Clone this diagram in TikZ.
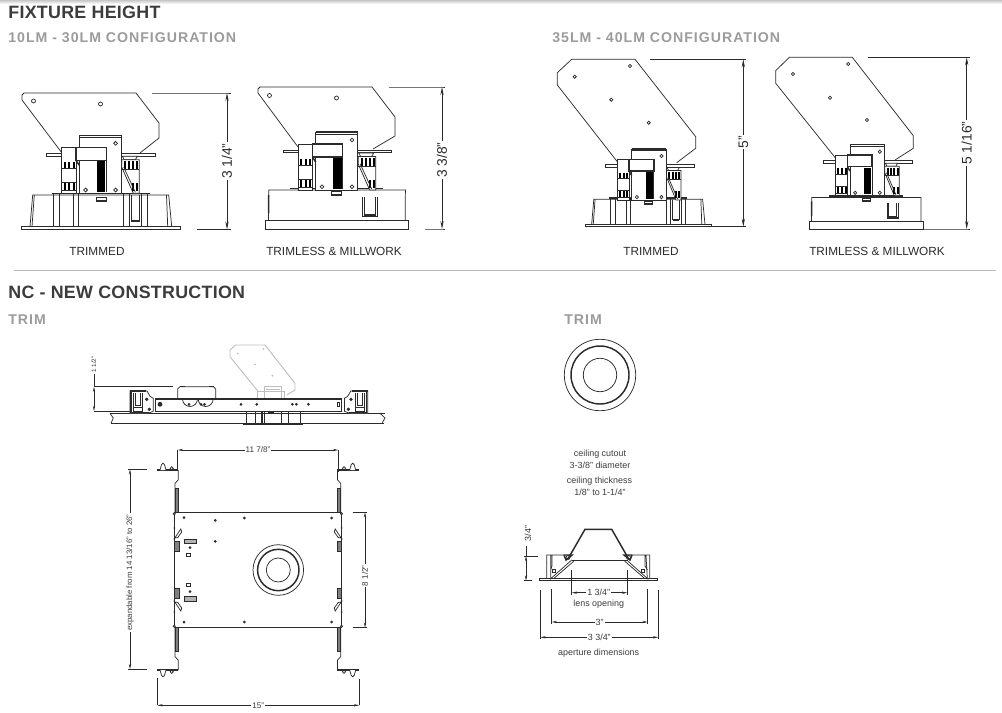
\documentclass[tikz,border=0pt]{standalone}
\usepackage{fontspec}
\setmainfont{Liberation Sans}
\usepackage{xcolor}
\usetikzlibrary{arrows.meta}
\definecolor{inkgray}{HTML}{2B2B2B}
\definecolor{headgray}{HTML}{3C3C3C}
\definecolor{subgray}{HTML}{9B9B9B}
\definecolor{rulegray}{HTML}{B9B9B9}
\definecolor{fadegray}{HTML}{BDBDBD}
\newfontfamily\spacedfont[LetterSpace=7]{Liberation Sans}
\newfontfamily\headfont[LetterSpace=1.5]{Liberation Sans}
\tikzset{
  part/.style={draw=inkgray,line width=0.55pt},
  heavy/.style={draw=inkgray,line width=1.1pt},
  comb/.style={draw=black,line width=1.5pt},
  module/.pic={
    \draw[part,fill=white] (0,0) rectangle (42,-58);
    \draw[heavy] (0,-58) -- (42,-58);
    \draw[part] (0,-56) -- (42,-56);
    \draw[part,fill=white] (-17.7,0) rectangle (-3.3,-46);
    \draw[heavy,fill=white] (-3.3,-46) rectangle (27,-33);
    \draw[part] (27,-33) -- (27,-1);
    \draw[heavy] (-3.3,-33) -- (0,-28);
    \fill[black] (17.5,-32) rectangle (26,-1.5);
    \foreach \cx in {-14.5,-10,-5.5} {
      \draw[comb] (\cx,-31) -- (\cx,-25);
      \draw[comb] (\cx,-10) -- (\cx,-3.5);
    }
    \draw[part] (-17.7,-24.5) -- (-3.3,-24.5) (-17.7,-11) -- (-3.3,-11) (-17.7,-3) -- (-3.3,-3);
    \foreach \hx/\hy in {36.3/-50,6.3/-3.3,36.3/-3.3}
      \draw[part,fill=white] (\hx,\hy) circle (1.9);
    \draw[part,fill=white] (-32.7,-40) rectangle (-17.7,-37.3);
    \draw[part,fill=white] (42,-40) rectangle (76,-37.3);
    \draw[part,fill=white] (43,-37) -- (58,-37) -- (56,-33.5) -- (45,-33.5) -- cycle;
    \draw[part,fill=white] (42.5,-33.5) -- (60,-33.5) -- (60,0) -- (54,0) -- (42.5,-26) -- cycle;
    \foreach \cx in {46,50,54,58} \draw[comb] (\cx,-32) -- (\cx,-24);
    \foreach \cx in {54,58} \draw[comb] (\cx,-10) -- (\cx,-2);
    \draw[part] (42.5,-23.5) -- (60,-23.5);
    \draw[part] (44.5,-26) -- (56,-1);
  },
  trimhousing/.pic={
    \draw[part,fill=white] (0,0) rectangle (158.3,-2.7);
    \draw[part] (8.3,-2.7) -- (11,-34.3) -- (147,-34.3) -- (150,-2.7);
    \draw[part] (10.3,-2.7) -- (12.6,-34.3) (146,-2.7) -- (144.8,-34.3);
    \draw[heavy] (30,-36) -- (128,-36);
    \foreach \wx in {31.7,37.7,51.7,56.7,101.7,107.3,120,126}
      \draw[part] (\wx,-36) -- (\wx,-2.7);
    \draw[part,fill=white] (74.3,-31.7) rectangle (84.3,-27.7);
    \draw[heavy] (74.3,-28.5) -- (84.3,-28.5);
    \draw[part] (109.5,-34) -- (109.5,-9) -- (118,-9) -- (118,-34);
    \draw[heavy] (109.5,-8) -- (118,-8);
  },
  millhousing/.pic={
    \draw[part,fill=white] (0,0) rectangle (142.7,-9);
    \draw[part] (2.7,-9) -- (3,-39) -- (139.7,-39) -- (139.5,-9);
    \draw[heavy] (3,-34) -- (2.9,-16);
    \draw[heavy] (24.3,-40.5) -- (117.7,-40.5);
    \draw[part,fill=white] (66,-37.5) rectangle (76,-34);
    \draw[heavy] (66,-34.5) -- (76,-34.5);
    \draw[part] (97,-32) -- (97,-13) -- (111.3,-13) -- (111.3,-32);
    \draw[part] (99,-32) -- (99,-15) -- (109.3,-15) -- (109.3,-32);
    \draw[heavy] (98,-14) -- (110.3,-14);
  },
  endclip/.pic={
    \draw[part,fill=white] (0,-22.3) -- (17,-22.3) -- (20,-17) -- (23.3,-15) -- (23.3,-2) -- (18,0) -- (0,0) -- cycle;
    \draw[heavy] (0,-22.3) -- (16,-22.3) (1,-22) -- (1,-1) -- (19,-1);
    \draw[part] (3,-20) -- (3,-2) -- (12,-2) -- (12,-20);
    \draw[part] (5,-20) -- (5,-8) -- (10,-8) -- (10,-20);
    \draw[heavy] (3,-6) -- (12,-6);
    \filldraw[inkgray] (16.7,-14) circle (1.4) (19.3,-4) circle (1.4);
  },
  rail/.pic={
    \draw[part] (0,0) -- (0,-29.3) -- (3.3,-33) -- (3.3,-42.7);
    \draw[heavy] (3.3,-42.7) -- (-18.3,-42.7);
    \draw[part,fill=gray] (0.8,0) rectangle (3.3,-24);
    \draw[part,fill=white] (-15,-42.7) -- (-13.5,-48) -- (-12,-49.5) -- (-10.5,-48) -- (-9,-42.7);
    \draw[part,fill=white] (-3.3,-44.5) circle (1.6);
    \draw[part,fill=white] (-0.8,1) circle (1.1);
  },
  sidetab/.pic={
    \draw[part,fill=gray] (0,-28.3) rectangle (4.7,-18.3);
    \draw[part,fill=white] (0.5,-32) -- (6.5,-41) -- (7.4,-38) -- (3.5,-32.5) -- cycle;
    \fill[inkgray] (0,-42) circle (1) (0,-31) circle (0.9);
  }
}
\begin{document}
\begin{tikzpicture}[x=0.75pt,y=-0.75pt,
      every node/.append style={inner sep=0.8pt,text=inkgray},
      dim/.style={draw=inkgray,line width=0.55pt,{Stealth[length=6pt,width=2.4pt]}-{Stealth[length=6pt,width=2.4pt]}},
      dimsmall/.style={draw=inkgray,line width=0.45pt,{Stealth[length=4pt,width=1.7pt]}-{Stealth[length=4pt,width=1.7pt]}},
      ext/.style={draw=inkgray,line width=0.55pt}]
    \tikzstyle{heading} = [anchor=base west,font=\headfont\bfseries\fontsize{13.4}{15}\selectfont,text=headgray]
    \tikzstyle{subheading} = [anchor=base west,font=\spacedfont\bfseries\fontsize{10.6}{12}\selectfont,text=subgray]
    \tikzstyle{caption} = [font=\fontsize{8.85}{10}\selectfont]
    \tikzstyle{height} = [font=\fontsize{10.4}{12}\selectfont,rotate=90,fill=white]
    \tikzstyle{dimtext} = [font=\fontsize{6.1}{8}\selectfont,fill=white,text=headgray]
    \tikzstyle{note} = [font=\fontsize{6.7}{8}\selectfont,text=headgray]
    \useasboundingbox (0,0) rectangle (1002,713);
    \shade[top color=black!22,bottom color=white] (0,0) rectangle (1002,4);

    % headings
    \node (fixtureHead) [heading] at (7,18.5) {FIXTURE HEIGHT};
    \node (smallHead) [subheading] at (7,43) {10LM - 30LM CONFIGURATION};
    \node (largeHead) [subheading] at (551,43) {35LM - 40LM CONFIGURATION};
    \draw[draw=rulegray,line width=0.7pt] (14,270) -- (996,270);
    \node (ncHead) [heading] at (7,298) {NC - NEW CONSTRUCTION};
    \node (trimHeadA) [subheading] at (7,324) {TRIM};
    \node (trimHeadB) [subheading] at (563,324) {TRIM};

    % 10LM trimmed
    \draw[part] (62,153) -- (22,100) -- (22,95) -- (24,93) -- (136,93) -- (159,123) -- (159,138) -- (140,153);
    \draw[part] (33.5,101) circle (2) (100.5,104) circle (2);
    \pic (trimA) at (21.7,229.3) {trimhousing};
    \pic (moduleA) at (79.3,193.3) {module};
    \coordinate (topA) at (227,93);
    \coordinate (botA) at (227,229.5);
    \draw[ext] (152,93) -- (topA) -- +(4,0);
    \draw[ext] (197,229.5) -- (botA) -- +(4,0);
    \draw[dim] (topA) -- node (hgtA) [height,pos=.5] {3 1/4"} (botA);
    \node (capA) [caption] at (97,251) {TRIMMED};

    % 10LM trimless
    \draw[part] (298,147) -- (258,93) -- (258,89) -- (260,87) -- (372,87) -- (395,117) -- (395,136) -- (373,149);
    \draw[part] (269.5,95.5) circle (2) (336.5,98) circle (2);
    \pic (millA) at (265.7,229) {millhousing};
    \pic (moduleB) at (315.7,190) {module};
    \coordinate (topB) at (442,87);
    \coordinate (botB) at (442,229);
    \draw[ext] (388.5,87) -- (topB) -- +(3,0);
    \draw[ext] (425,229) -- (botB) -- +(3,0);
    \draw[dim] (topB) -- node (hgtB) [height,pos=.515] {3 3/8"} (botB);
    \node (capB) [caption] at (334,251) {TRIMLESS \& MILLWORK};

    % 35LM trimmed
    \draw[part] (617.3,161.7) -- (557.3,85) -- (557.3,72.7) -- (571.7,59.3) -- (635,59.3) -- (695.7,136.7) -- (695.7,148.3) -- (676.7,162.7);
    \foreach \hx/\hy in {574.7/76.7,630/66,611.3/99.7,648.7/122.7}
      \draw[part] (\hx,\hy) circle (1.6);
    \pic (trimB) [xscale=.8,yscale=.8] at (585,226.7) {trimhousing};
    \pic (moduleC) [xscale=.82,yscale=.88] at (631.7,200) {module};
    \coordinate (topC) at (743.3,59.3);
    \coordinate (botC) at (743.3,226.7);
    \draw[ext] (650,59.3) -- (topC) -- +(3,0);
    \draw[ext] (712,226.7) -- (botC) -- +(3,0);
    \draw[dim] (topC) -- node (hgtC) [height,pos=.494] {5"} (botC);
    \node (capC) [caption] at (651,251) {TRIMMED};

    % 35LM trimless
    \draw[part] (835.7,158.3) -- (775.7,83.3) -- (775.7,70.7) -- (789.3,57.3) -- (852.3,57.3) -- (913.3,135.7) -- (913.3,148.3) -- (895,160);
    \foreach \hx/\hy in {793/74,848.3/64,830/97.7,867/120}
      \draw[part] (\hx,\hy) circle (1.6);
    \pic (millB) [xscale=.8,yscale=.81] at (809.3,229) {millhousing};
    \pic (moduleD) [xscale=.82,yscale=.88] at (850,195.7) {module};
    \coordinate (topD) at (966.7,57.3);
    \coordinate (botD) at (966.7,229);
    \draw[ext] (868,57.3) -- (topD) -- +(3,0);
    \draw[ext] (924,229) -- (botD) -- +(3,0);
    \draw[dim] (topD) -- node (hgtD) [height,pos=.5] {5 1/16"} (botD);
    \node (capD) [caption] at (877,251) {TRIMLESS \& MILLWORK};

    % new construction, side view
    \draw[draw=fadegray,line width=0.7pt] (258.3,391.7) -- (230,356.7) -- (230,350) -- (235.7,345) -- (265,345) -- (295,383.3) -- (295,390) -- (286.7,395);
    \foreach \hx/\hy in {237.7/353.3,263.3/349,255/364.3,272.3/375.7}
      \fill[fadegray] (\hx,\hy) circle (1);
    \draw[draw=fadegray,line width=0.7pt] (257.7,399) rectangle (284,391.7) (264,398.5) rectangle (281.7,386.7) (266,389) -- (280,389);
    \draw[part] (110,413.3) -- (385,413.3);
    \draw[part] (111,423.3) -- (384,423.3);
    \draw[part] (110,413.3) -- (113.3,418) -- (111,423.3);
    \draw[part] (380,413.3) -- (385,418) -- (382,423.3);
    \draw[part,fill=white] (155,399) rectangle (341.7,411.7);
    \draw[heavy] (155,399) -- (341.7,399);
    \foreach \hx in {189,201,204.5,241,256.7,292.3,296.3,308.3}
      \fill[inkgray] (\hx,404.3) circle (1.5);
    \draw[part,fill=inkgray] (160,404.3) circle (2);
    \draw[part] (337,402.5) rectangle (339,406);
    \draw[part] (177.7,399) -- (177.7,389) -- (180,386.7) -- (213.5,386.7) -- (215.7,389) -- (215.7,399);
    \draw[heavy] (180,386.7) -- (185,386.7) (208.5,386.7) -- (214,386.7);
    \draw[part] (182.5,399) arc (180:360:7.5 and -7.5) (198.2,399) arc (180:360:7.5 and -7.5);
    \pic (clipL) at (130,413.3) {endclip};
    \pic (clipR) [xscale=-1] at (367.7,413.3) {endclip};
    \foreach \wx in {246.7,255,261,264,281,288.5,300}
      \draw[part] (\wx,411.7) -- (\wx,424);
    \draw[part] (262,411.7) -- (262,424);
    \draw[heavy] (243.3,424) -- (302.7,424);
    \fill[inkgray] (268,412) rectangle (274,413.5);
    \coordinate (sideTop) at (94,386.7);
    \coordinate (sideBot) at (94,411);
    \draw[ext] (sideTop) -- (172.7,386.7);
    \draw[ext] (sideBot) -- (130,411);
    \draw[dimsmall] (sideTop) -- (sideBot);
    \node (sideLabel) [dimtext,rotate=90,font=\fontsize{4.7}{6}\selectfont] at (94,364.5) {1 1/2"};
    \draw[ext] (sideLabel) -- (sideTop);

    % new construction, plan view
    \draw[part,fill=white] (174,512.7) rectangle (341.7,627.3);
    \pic (railA) at (175,512.7) {rail};
    \pic (railB) [xscale=-1] at (340.7,512.7) {rail};
    \pic (railC) [yscale=-1] at (175,627.3) {rail};
    \pic (railD) [xscale=-1,yscale=-1] at (340.7,627.3) {rail};
    \pic (tabA) at (174.3,570) {sidetab};
    \pic (tabB) [yscale=-1] at (174.3,570) {sidetab};
    \pic (tabC) [xscale=-1] at (341.7,570) {sidetab};
    \pic (tabD) [xscale=-1,yscale=-1] at (341.7,570) {sidetab};
    \foreach \hx/\hy in {184/517.7,215.3/520.3,244.3/518,331.7/518,215.3/541.3,184/622,244.3/622,331.7/622,190/547.7,190/591.7}
      \fill[inkgray] (\hx,\hy) circle (1.5);
    \draw[part,fill=black!30] (184,539) rectangle (196.7,543.3);
    \draw[part,fill=black!30] (184,596.7) rectangle (196.7,601);
    \draw[part] (186.7,553.3) rectangle (190.7,556.7) (186.7,583.3) rectangle (190.7,586.7);
    \draw[part] (278.3,570) circle (25.3) circle (12);
    \draw[heavy] (278.3,570) circle (20.7);
    \coordinate (wideL) at (177.7,450);
    \coordinate (wideR) at (338.3,450);
    \draw[ext] (wideL) -- (177.7,470);
    \draw[ext] (wideR) -- (338.3,471.7);
    \draw[dimsmall] (wideL) -- node (wideLabel) [dimtext,pos=.5] {11 7/8"} (wideR);
    \coordinate (outerL) at (157.3,705.3);
    \coordinate (outerR) at (359.3,705.3);
    \draw[ext] (157.3,678) -- (outerL);
    \draw[ext] (359.3,679) -- (outerR);
    \draw[dimsmall] (outerL) -- node (outerLabel) [dimtext,pos=.5] {15"} (outerR);
    \coordinate (deepT) at (365,512.3);
    \coordinate (deepB) at (365,627.7);
    \draw[ext] (352.7,512.3) -- (deepT) -- +(2,0);
    \draw[ext] (352.7,627.7) -- (deepB) -- +(2,0);
    \draw[dimsmall] (deepT) -- node (deepLabel) [dimtext,rotate=90,pos=.55] {8 1/2"} (deepB);
    \coordinate (spanT) at (130,469.3);
    \coordinate (spanB) at (130,669.3);
    \draw[ext] (128,469.3) -- (147.3,469.3);
    \draw[ext] (128,669.3) -- (147.3,669.3);
    \draw[dimsmall] (spanT) -- node (spanLabel) [dimtext,rotate=90,pos=.517,font=\fontsize{5.9}{8}\selectfont] {expandable from 14 13/16" to 26"} (spanB);

    % trim, front view and notes
    \draw[part] (600,375) circle (35.7) circle (16.7);
    \draw[heavy] (600,375) circle (29);
    \node (cutoutA) [note] at (600,454) {ceiling cutout};
    \node (cutoutB) [note] at (600,465) {3-3/8" diameter};
    \node (thickA) [note] at (599.5,481) {ceiling thickness};
    \node (thickB) [note] at (600,492) {1/8" to 1-1/4"};

    % trim, section
    \draw[part,fill=white] (539.3,578.3) rectangle (657.5,580.3);
    \draw[heavy] (568.3,558.3) -- (585,529.3) -- (611.7,529.3) -- (628.3,558.3);
    \draw[part] (571.7,560) -- (628.3,560);
    \draw[part] (571.7,560) -- (550,579.3) (626.7,560) -- (648.3,579.3);
    \draw[part] (574,561) -- (554,578.3) (624.5,561) -- (644.5,578.3);
    \draw[part] (564,555) -- (546.7,555) -- (546.7,578.3) (550.7,555.5) -- (550.7,578.3) (552,555) -- (552,566) -- (550.7,570);
    \draw[part] (632,555) -- (649.7,555) -- (649.7,578.3) (646,555.5) -- (647.3,578.3) (645,555) -- (645,566) -- (647.5,570);
    \draw[heavy] (564,555) -- (572,555) -- (566,560) -- (564,555) (632,555) -- (624,555) -- (630,560) -- (632,555);
    \draw[part] (568,557.5) circle (2) (628.5,557.5) circle (2);
    \draw[part] (552,569) rectangle (555,572) (641,569) rectangle (644,572);
    \coordinate (tallT) at (526,556);
    \coordinate (tallB) at (526,580.7);
    \draw[ext] (524,556) -- (538.3,556);
    \draw[ext] (524,580.7) -- (531.7,580.7);
    \draw[dimsmall] (tallT) -- (tallB);
    \node (tallLabel) [note,rotate=90] at (528,533.5) {3/4"};
    \draw[ext] (526,546) -- (tallT);
    \coordinate (lensL) at (571.7,592.7);
    \coordinate (lensR) at (627.3,592.7);
    \draw[ext] (571.7,570) -- (571.7,595);
    \draw[ext] (627.3,570) -- (627.3,595);
    \draw[dimsmall] (lensL) -- node (lensLabel) [note,fill=white,pos=.485] {1 3/4"} (lensR);
    \node (lensNote) [note] at (598.7,604) {lens opening};
    \coordinate (apL) at (551.7,622);
    \coordinate (apR) at (647.7,622);
    \draw[ext] (551.7,589.3) -- (551.7,624);
    \draw[ext] (647.7,589.3) -- (647.7,624);
    \draw[dimsmall] (apL) -- node (apLabel) [note,fill=white,pos=.5] {3"} (apR);
    \coordinate (fullL) at (540.3,637.3);
    \coordinate (fullR) at (658.3,637.3);
    \draw[ext] (540.3,590) -- (540.3,639.3);
    \draw[ext] (658.3,590) -- (658.3,639.3);
    \draw[dimsmall] (fullL) -- node (fullLabel) [note,fill=white,pos=.5] {3 3/4"} (fullR);
    \node (fullNote) [note] at (598.7,652.7) {aperture dimensions};
\end{tikzpicture}
\end{document}
